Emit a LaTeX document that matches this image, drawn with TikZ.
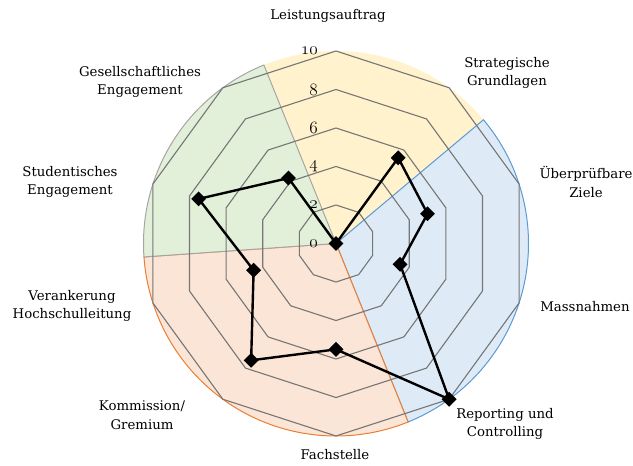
\documentclass[tikz,border=0pt]{standalone}
\usepackage{fontspec}
\setmainfont{DejaVu Serif}
\usetikzlibrary{shapes.geometric}
\definecolor{secyellow}{RGB}{255,242,204}
\definecolor{secblue}{RGB}{222,235,247}
\definecolor{secorange}{RGB}{251,229,214}
\definecolor{secgreen}{RGB}{226,240,217}
\definecolor{lineblue}{RGB}{91,155,213}
\definecolor{lineorange}{RGB}{237,125,49}
\definecolor{linegray}{RGB}{165,165,165}
\definecolor{gridgray}{RGB}{118,118,118}
\newcommand{\rad}{192.5}
\newcommand{\unitr}{19.25}
\newcommand{\scalefont}{\fontencoding{OML}\fontfamily{lmm}\fontseries{b}\fontshape{it}\fontsize{17}{17}\selectfont}

\begin{document}
\begin{tikzpicture}[x=1pt, y=1pt, font=\fontsize{13.3}{18.5}\selectfont,
    grid/.style={gridgray, line width=1.1pt, line join=round},
    marker/.style={diamond, fill=black, inner sep=0pt, minimum width=15pt, minimum height=15pt},
    axislabel/.style={align=center}]
    \useasboundingbox (-336, -222.5) rectangle (297, 243.5);
    % sectors
    \fill[secyellow] (0,0) -- (112:\rad) arc[start angle=112, end angle=40, radius=\rad] -- cycle;
    \filldraw[fill=secblue, draw=lineblue, line width=1pt] (0,0) -- (40:\rad) arc[start angle=40, end angle=-68, radius=\rad] -- cycle;
    \filldraw[fill=secorange, draw=lineorange, line width=1pt] (0,0) -- (-68:\rad) arc[start angle=-68, end angle=-176, radius=\rad] -- cycle;
    \filldraw[fill=secgreen, draw=linegray, line width=1pt] (0,0) -- (184:\rad) arc[start angle=184, end angle=112, radius=\rad] -- cycle;
    % grid decagons
    \foreach \lv in {2,4,...,10}
        \draw[grid] (90:\lv*\unitr) \foreach \k in {1,...,9} {-- ({90-36*\k}:\lv*\unitr)} -- cycle;
    % scale
    \foreach \lv in {0,2,...,10}
        \node[anchor=east, inner sep=0pt, font=\scalefont] (s\lv) at (-18, \lv*\unitr) {\lv};
    % data
    \foreach \v [count=\i] in {0,5.5,5,3.5,10,5.5,7.5,4.5,7.5,4.2}
        \coordinate (p\i) at ({90-36*(\i-1)}:\v*\unitr);
    \draw[line width=2.4pt, line join=round] (p1) -- (p2) -- (p3) -- (p4) -- (p5) -- (p6) -- (p7) -- (p8) -- (p9) -- (p10) -- cycle;
    \foreach \i in {1,...,10}
        \node[marker] (m\i) at (p\i) {};
    % axis labels
    \node[axislabel] (leistung) at (-8, 227.5) {Leistungsauftrag};
    \node[axislabel] (strategie) at (171, 170.5) {Strategische\\Grundlagen};
    \node[axislabel] (ziele) at (250, 61.5) {Überprüfbare\\Ziele};
    \node[axislabel] (massnahmen) at (249, -63.5) {Massnahmen};
    \node[axislabel] (reporting) at (169, -180.5) {Reporting und\\Controlling};
    \node[axislabel] (fachstelle) at (-1, -211.5) {Fachstelle};
    \node[axislabel] (kommission) at (-194, -171.5) {Kommission/\\Gremium};
    \node[axislabel] (verankerung) at (-264, -62.5) {Verankerung\\Hochschulleitung};
    \node[axislabel] (studentisch) at (-266, 61.5) {Studentisches\\Engagement};
    \node[axislabel] (gesellschaft) at (-196, 161.5) {Gesellschaftliches\\Engagement};
\end{tikzpicture}
\end{document}
